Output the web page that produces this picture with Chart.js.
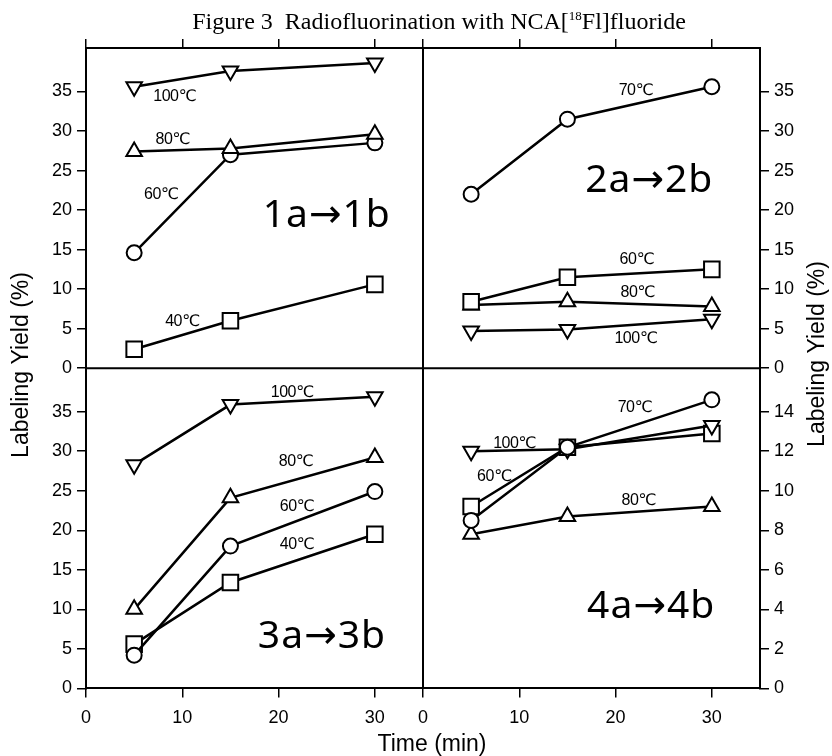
<!DOCTYPE html>
<html>
<head>
<meta charset="utf-8">
<script src="https://cdn.jsdelivr.net/npm/chart.js@4.4.1/dist/chart.umd.min.js"></script>
<style>
  html, body { margin: 0; padding: 0; background: #fff; }
  #wrap { width: 832px; height: 756px; }
</style>
</head>
<body>
<div id="wrap"><canvas id="fig3"></canvas></div>
<script>
// sampling times (min)
const times = [5, 15, 30];

// 1a -> 1b
const yield1_40 = [2.4, 6.0, 10.6];
const yield1_60 = [14.6, 27.0, 28.5];
const yield1_80 = [27.4, 27.8, 29.6];
const yield1_100 = [35.6, 37.6, 38.6];

// 2a -> 2b
const yield2_60 = [8.4, 11.5, 12.5];
const yield2_70 = [22.0, 31.5, 35.6];
const yield2_80 = [8.0, 8.4, 7.8];
const yield2_100 = [4.7, 4.9, 6.2];

// 3a -> 3b
const yield3_40 = [5.6, 13.4, 19.5];
const yield3_60 = [4.2, 18.0, 24.9];
const yield3_80 = [10.0, 24.1, 29.2];
const yield3_100 = [28.3, 35.9, 36.9];

// 4a -> 4b
const yield4_60 = [9.2, 12.2, 12.9];
const yield4_70 = [8.5, 12.2, 14.6];
const yield4_80 = [7.8, 8.7, 9.2];
const yield4_100 = [12.0, 12.1, 13.3];

// tick labels
const timeTicks = [0, 10, 20, 30];
const yieldTicks = [0, 5, 10, 15, 20, 25, 30, 35];
const yieldTicks4 = [0, 2, 4, 6, 8, 10, 12, 14];

// text placed inside the panels (x, y in the panel's own data units)
const panelNotes = [
  ['xTL', 'yTL', 9.2, 34.4, '100℃'],
  ['xTL', 'yTL', 9.0, 28.9, '80℃'],
  ['xTL', 'yTL', 7.8, 22.0, '60℃'],
  ['xTL', 'yTL', 10.0, 5.9, '40℃'],
  ['xTR', 'yTR', 22.1, 35.1, '70℃'],
  ['xTR', 'yTR', 22.2, 13.7, '60℃'],
  ['xTR', 'yTR', 22.3, 9.6, '80℃'],
  ['xTR', 'yTR', 22.1, 3.7, '100℃'],
  ['xBL', 'yBL', 21.4, 37.4, '100℃'],
  ['xBL', 'yBL', 21.8, 28.7, '80℃'],
  ['xBL', 'yBL', 21.9, 23.0, '60℃'],
  ['xBL', 'yBL', 21.9, 18.2, '40℃'],
  ['xBR', 'yBR', 22.0, 14.2, '70℃'],
  ['xBR', 'yBR', 9.5, 12.4, '100℃'],
  ['xBR', 'yBR', 7.4, 10.7, '60℃'],
  ['xBR', 'yBR', 22.4, 9.5, '80℃']
];
const reactionNotes = [
  ['xTL', 'yTL', 25.0, 19.3, '1a→1b'],
  ['xTR', 'yTR', 23.5, 23.7, '2a→2b'],
  ['xBL', 'yBL', 24.5, 6.5, '3a→3b'],
  ['xBR', 'yBR', 23.7, 4.1, '4a→4b']
];

const markers = {
  circle: { pointStyle: 'circle', pointRadius: 7.5, pointRotation: 0 },
  square: { pointStyle: 'rect', pointRadius: 11, pointRotation: 0 },
  up: { pointStyle: 'triangle', pointRadius: 9, pointRotation: 0 },
  down: { pointStyle: 'triangle', pointRadius: 9, pointRotation: 180 }
};

function series(label, values, style, xId, yId) {
  return Object.assign({
    label: label,
    data: times.map((t, i) => ({ x: t, y: values[i] })),
    xAxisID: xId,
    yAxisID: yId,
    borderColor: '#000',
    borderWidth: 2.5,
    backgroundColor: '#fff',
    pointBackgroundColor: '#fff',
    pointBorderColor: '#000',
    pointBorderWidth: 2,
    tension: 0,
    fill: false
  }, markers[style]);
}

const tickFont = { family: '"Liberation Sans", Arial, sans-serif', size: 18 };
const axisLine = { display: true, color: '#000', width: 2 };
const tickMarks = { drawOnChartArea: false, drawTicks: true, tickLength: 9, color: '#000', lineWidth: 1.5 };

function timeAxis(position, stack, showLabels) {
  return {
    type: 'linear', position: position, stack: stack, min: 0, max: 35,
    afterBuildTicks: s => { s.ticks = timeTicks.map(v => ({ value: v })); },
    ticks: { display: showLabels, autoSkip: false, color: '#000', font: tickFont, padding: 10, maxRotation: 0 },
    grid: tickMarks,
    border: axisLine
  };
}

function yieldAxis(position, stack, max, values) {
  return {
    type: 'linear', position: position, stack: stack, min: 0, max: max,
    afterBuildTicks: s => { s.ticks = values.map(v => ({ value: v })); },
    ticks: { autoSkip: false, color: '#000', font: tickFont, padding: 5 },
    grid: tickMarks,
    border: axisLine
  };
}

function drawTitle(ctx, cx, cy) {
  const big = '24px "Liberation Serif", "Times New Roman", serif';
  const small = '13px "Liberation Serif", "Times New Roman", serif';
  const a = 'Figure 3  Radiofluorination with NCA[', sup = '18', b = 'Fl]fluoride';
  ctx.font = big;
  const wa = ctx.measureText(a).width, wb = ctx.measureText(b).width;
  ctx.font = small;
  const ws = ctx.measureText(sup).width;
  let x = cx - (wa + ws + wb) / 2;
  ctx.textAlign = 'left';
  ctx.textBaseline = 'middle';
  ctx.font = big; ctx.fillText(a, x, cy); x += wa;
  ctx.font = small; ctx.fillText(sup, x, cy - 6); x += ws;
  ctx.font = big; ctx.fillText(b, x, cy);
}

const figurePlugin = {
  id: 'figure3',
  beforeDraw(chart) {
    const ctx = chart.ctx;
    ctx.save();
    ctx.fillStyle = '#fff';
    ctx.fillRect(0, 0, chart.width, chart.height);
    ctx.restore();
  },
  afterDatasetsDraw(chart) {
    const ctx = chart.ctx, s = chart.scales, area = chart.chartArea;
    ctx.save();
    // panel dividers
    ctx.strokeStyle = '#000';
    ctx.lineWidth = 2;
    ctx.beginPath();
    ctx.moveTo(s.xTL.right, area.top);
    ctx.lineTo(s.xTL.right, area.bottom);
    ctx.moveTo(area.left, s.yTL.bottom);
    ctx.lineTo(area.right, s.yTL.bottom);
    ctx.stroke();

    ctx.fillStyle = '#000';
    ctx.textAlign = 'center';
    ctx.textBaseline = 'middle';
    ctx.font = '16px "Liberation Sans", "DejaVu Sans", sans-serif';
    ctx.letterSpacing = '-0.5px';
    panelNotes.forEach(n => {
      ctx.fillText(n[4], s[n[0]].getPixelForValue(n[2]), s[n[1]].getPixelForValue(n[3]));
    });
    ctx.letterSpacing = '1px';
    ctx.font = '39px "Noto Sans", "DejaVu Sans", sans-serif';
    reactionNotes.forEach(n => {
      ctx.fillText(n[4], s[n[0]].getPixelForValue(n[2]), s[n[1]].getPixelForValue(n[3]));
    });
    ctx.letterSpacing = '0px';

    drawTitle(ctx, 439, 23);

    ctx.font = '23px "Liberation Sans", Arial, sans-serif';
    ctx.textAlign = 'center';
    ctx.fillText('Time (min)', 432, 745);
    ctx.translate(22, 365);
    ctx.rotate(-Math.PI / 2);
    ctx.fillText('Labeling Yield (%)', 0, 0);
    ctx.rotate(Math.PI / 2);
    ctx.translate(818 - 22, 354 - 365);
    ctx.rotate(-Math.PI / 2);
    ctx.fillText('Labeling Yield (%)', 0, 0);
    ctx.restore();
  }
};

const fig = document.getElementById('fig3');
const myChart = new Chart(fig, {
  type: 'line',
  data: {
    datasets: [
      series('1: 100℃', yield1_100, 'down', 'xTL', 'yTL'),
      series('1: 80℃', yield1_80, 'up', 'xTL', 'yTL'),
      series('1: 60℃', yield1_60, 'circle', 'xTL', 'yTL'),
      series('1: 40℃', yield1_40, 'square', 'xTL', 'yTL'),
      series('2: 70℃', yield2_70, 'circle', 'xTR', 'yTR'),
      series('2: 60℃', yield2_60, 'square', 'xTR', 'yTR'),
      series('2: 80℃', yield2_80, 'up', 'xTR', 'yTR'),
      series('2: 100℃', yield2_100, 'down', 'xTR', 'yTR'),
      series('3: 100℃', yield3_100, 'down', 'xBL', 'yBL'),
      series('3: 80℃', yield3_80, 'up', 'xBL', 'yBL'),
      series('3: 60℃', yield3_60, 'circle', 'xBL', 'yBL'),
      series('3: 40℃', yield3_40, 'square', 'xBL', 'yBL'),
      series('4: 70℃', yield4_70, 'circle', 'xBR', 'yBR'),
      series('4: 100℃', yield4_100, 'down', 'xBR', 'yBR'),
      series('4: 60℃', yield4_60, 'square', 'xBR', 'yBR'),
      series('4: 80℃', yield4_80, 'up', 'xBR', 'yBR')
    ]
  },
  options: {
    responsive: true,
    maintainAspectRatio: false,
    animation: false,
    layout: { padding: { top: 39, left: 47, right: 33, bottom: 17 } },
    plugins: { legend: { display: false }, tooltip: { enabled: false } },
    // left and top stacks are laid out in reverse order, so the lower / right one comes first
    scales: {
      yBL: yieldAxis('left', 'left', 40.5, yieldTicks),
      yTL: yieldAxis('left', 'left', 40.5, yieldTicks),
      yTR: yieldAxis('right', 'right', 40.5, yieldTicks),
      yBR: yieldAxis('right', 'right', 16.2, yieldTicks4),
      xTR: timeAxis('top', 'top', false),
      xTL: timeAxis('top', 'top', false),
      xBL: timeAxis('bottom', 'bottom', true),
      xBR: timeAxis('bottom', 'bottom', true)
    }
  },
  plugins: [figurePlugin]
});
</script>
</body>
</html>
